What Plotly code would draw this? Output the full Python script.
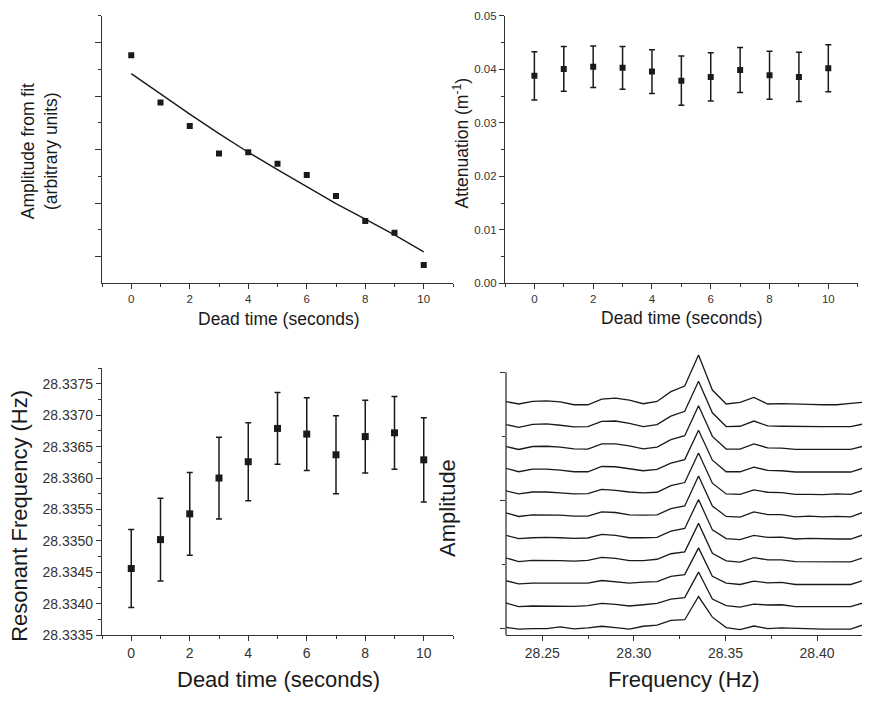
import plotly.graph_objects as go

# ---------------- data ----------------
dead_time = [0, 1, 2, 3, 4, 5, 6, 7, 8, 9, 10]

# top-left: amplitude from fit (arbitrary units) and fitted curve
amplitude_fit_points = [8.53, 6.76, 5.88, 4.85, 4.90, 4.47, 4.05, 3.26, 2.33, 1.89, 0.68]
amplitude_fit_curve = [7.84, 7.07, 6.33, 5.60, 4.90, 4.25, 3.61, 2.98, 2.40, 1.81, 1.17]

# top-right: attenuation (1/m) with error
attenuation = [0.0388, 0.0401, 0.0405, 0.0403, 0.0396, 0.0379, 0.0386, 0.0399, 0.0389, 0.0386, 0.0402]
attenuation_err = [0.0045, 0.0042, 0.0039, 0.0040, 0.0041, 0.0046, 0.0045, 0.0042, 0.0045, 0.0046, 0.0044]

# bottom-left: resonant frequency (Hz) with error
resonant_freq = [28.33456, 28.33502, 28.33543, 28.33600, 28.33626, 28.33679,
                 28.33670, 28.33637, 28.33666, 28.33672, 28.33629]
resonant_freq_err = [0.00062, 0.00066, 0.00066, 0.00065, 0.00062, 0.00057,
                     0.00058, 0.00062, 0.00058, 0.00058, 0.00067]

# bottom-right: stacked spectra (arbitrary amplitude, offset per dead time)
spectrum_freq = [28.22956, 28.23711, 28.24466, 28.25222, 28.25977, 28.26733, 28.27488,
                 28.28243, 28.28999, 28.29754, 28.30510, 28.31265, 28.32020, 28.32776,
                 28.33531, 28.34286, 28.35042, 28.35797, 28.36553, 28.37308, 28.38063,
                 28.38819, 28.39574, 28.40330, 28.41085, 28.41840, 28.42596]

spectra_amplitude = [
    [177.3, 175.3, 177.3, 177.8, 177.0, 174.7, 174.7, 179.1, 179.8, 178.3, 175.5, 177.3, 184.9, 189.3,
     213.5, 186.2, 175.3, 176.5, 180.4, 175.3, 175.5, 175.5, 175.0, 174.7, 174.7, 175.8, 176.8],
    [159.4, 157.1, 159.4, 159.7, 158.7, 157.4, 157.7, 161.7, 162.0, 160.2, 157.7, 159.2, 165.8, 169.6,
     193.1, 168.4, 157.7, 157.9, 162.0, 158.2, 157.9, 157.7, 157.7, 157.7, 157.7, 157.7, 159.9],
    [142.3, 139.8, 142.1, 142.3, 141.6, 140.3, 140.1, 144.1, 144.1, 142.6, 140.3, 141.6, 147.4, 150.5,
     174.0, 150.0, 140.1, 140.1, 144.1, 141.1, 140.8, 139.8, 139.8, 139.8, 139.8, 139.8, 142.6],
    [125.3, 122.4, 124.5, 124.5, 123.7, 122.4, 122.4, 126.5, 126.3, 124.5, 123.2, 124.2, 129.1, 131.9,
     154.8, 131.4, 122.4, 122.4, 126.0, 123.5, 123.2, 122.2, 122.2, 122.2, 122.2, 122.2, 125.5],
    [107.7, 105.1, 106.6, 106.6, 105.9, 105.1, 105.4, 108.7, 107.9, 106.6, 105.9, 106.4, 111.5, 114.0,
     137.0, 113.5, 105.1, 104.8, 108.2, 106.4, 106.1, 104.8, 104.8, 104.6, 105.1, 104.8, 108.2],
    [90.6, 87.5, 88.8, 88.8, 88.5, 87.8, 87.8, 91.1, 90.6, 88.8, 88.5, 88.8, 93.6, 95.7,
     119.1, 95.7, 87.5, 87.0, 91.1, 89.0, 89.0, 87.2, 87.8, 87.2, 87.5, 87.2, 91.1],
    [73.0, 70.2, 70.9, 71.2, 70.9, 70.4, 70.7, 73.5, 72.7, 70.9, 70.9, 71.2, 76.0, 78.1,
     100.8, 77.0, 70.2, 69.4, 72.7, 71.2, 71.4, 69.9, 70.4, 69.9, 69.9, 69.9, 73.5],
    [55.4, 52.3, 53.3, 53.3, 53.1, 52.6, 53.3, 55.6, 54.8, 53.1, 53.1, 54.1, 58.4, 59.9,
     82.1, 58.7, 52.8, 51.8, 55.4, 53.6, 53.6, 52.3, 52.3, 52.0, 52.0, 52.0, 55.6],
    [37.5, 34.9, 35.5, 35.5, 35.5, 35.2, 35.5, 37.5, 36.7, 35.5, 36.2, 36.7, 40.8, 42.1,
     63.0, 40.8, 35.5, 34.4, 37.0, 35.7, 36.0, 34.4, 34.4, 34.4, 34.4, 34.4, 37.8],
    [20.2, 17.1, 17.6, 17.6, 17.6, 17.3, 17.9, 19.6, 18.9, 17.6, 18.6, 19.6, 23.0, 24.2,
     44.1, 23.0, 17.9, 16.8, 19.1, 18.4, 18.6, 17.1, 17.1, 17.1, 17.1, 17.1, 20.4],
    [1.0, -0.5, 0.0, 0.0, 1.3, -0.3, 0.5, 1.8, 0.8, -0.5, 1.8, 2.6, 6.4, 6.9,
     25.0, 8.9, 0.8, -0.8, 2.0, 0.0, 0.5, 0.0, -0.3, -0.5, -0.5, -0.5, 3.3],
]

dead_time_ticks = [0, 2, 4, 6, 8, 10]
attenuation_ticks = [0.00, 0.01, 0.02, 0.03, 0.04, 0.05]
resonant_ticks = [28.3335, 28.3340, 28.3345, 28.3350, 28.3355, 28.3360, 28.3365, 28.3370, 28.3375]
spectrum_ticks = [28.25, 28.30, 28.35, 28.40]

# ---------------- styling ----------------
FONT = "Liberation Sans, Arial, sans-serif"
INK = "#1a1a1a"
AXC = "#333333"
W, H = 870, 704
OFF = 8  # page body margin in the browser


def dom_x(a, b):
    return [(a - OFF) / W, (b - OFF) / W]


def dom_y(top, bottom):
    return [1 - (bottom - OFF) / H, 1 - (top - OFF) / H]


fig = go.Figure()

# top-left
fig.add_trace(go.Scatter(x=dead_time, y=amplitude_fit_curve, mode="lines",
                         line=dict(color=INK, width=1.4), xaxis="x", yaxis="y"))
fig.add_trace(go.Scatter(x=dead_time, y=amplitude_fit_points, mode="markers",
                         marker=dict(symbol="square", size=6, color=INK), xaxis="x", yaxis="y"))

# top-right
fig.add_trace(go.Scatter(x=dead_time, y=attenuation, mode="markers",
                         marker=dict(symbol="square", size=6, color=INK),
                         error_y=dict(type="data", array=attenuation_err, color=INK,
                                      thickness=1.5, width=3),
                         xaxis="x2", yaxis="y2"))

# bottom-left
fig.add_trace(go.Scatter(x=dead_time, y=resonant_freq, mode="markers",
                         marker=dict(symbol="square", size=7, color=INK),
                         error_y=dict(type="data", array=resonant_freq_err, color=INK,
                                      thickness=1.5, width=3),
                         xaxis="x3", yaxis="y3"))

# bottom-right
for spec in spectra_amplitude:
    fig.add_trace(go.Scatter(x=spectrum_freq, y=spec, mode="lines",
                             line=dict(color=INK, width=1.3), xaxis="x4", yaxis="y4"))

tick_font_small = dict(family=FONT, size=11.5, color="#333")
tick_font_big = dict(family=FONT, size=14, color="#333")

common = dict(showgrid=False, zeroline=False, linecolor=AXC, linewidth=1.3,
              ticks="outside", tickcolor=AXC, tickwidth=1.2, ticklabeloverflow="allow")

fig.update_layout(
    width=W, height=H, autosize=False,
    margin=dict(l=0, r=0, t=0, b=0),
    paper_bgcolor="white", plot_bgcolor="white",
    showlegend=False,
    xaxis=dict(domain=dom_x(102, 453), range=[-1, 11], anchor="y", showline=True,
               tickvals=dead_time_ticks, ticklen=5, tickfont=tick_font_small,
               minor=dict(dtick=1, tick0=0, ticks="outside", ticklen=3, tickcolor=AXC), **common),
    yaxis=dict(domain=dom_y(10, 282.7), range=[0, 10], anchor="x", showline=True,
               tickvals=[1, 3, 5, 7, 9], ticklen=6, showticklabels=False,
               minor=dict(tickvals=[2, 4, 6, 8, 10], ticks="outside", ticklen=3, tickcolor=AXC), **common),
    xaxis2=dict(domain=dom_x(505, 857.7), range=[-1, 11], anchor="y2", showline=True,
                tickvals=dead_time_ticks, ticklen=5, tickfont=tick_font_small,
                minor=dict(dtick=1, tick0=0, ticks="outside", ticklen=3, tickcolor=AXC), **common),
    yaxis2=dict(domain=dom_y(10, 282.7), range=[0, 0.05], anchor="x2", showline=True,
                tickvals=attenuation_ticks, tickformat=".2f", ticklen=5, tickfont=tick_font_small,
                minor=dict(dtick=0.005, tick0=0, ticks="outside", ticklen=3, tickcolor=AXC), **common),
    xaxis3=dict(domain=dom_x(102, 453), range=[-1, 11], anchor="y3", showline=True,
                tickvals=dead_time_ticks, ticklen=5, tickfont=tick_font_big,
                minor=dict(dtick=1, tick0=0, ticks="outside", ticklen=3, tickcolor=AXC), **common),
    yaxis3=dict(domain=dom_y(369.3, 641.7), range=[28.3335, 28.33775], anchor="x3", showline=True,
                tickvals=resonant_ticks, tickformat=".4f", ticklen=5, tickfont=tick_font_big,
                minor=dict(dtick=0.00025, tick0=28.3335, ticks="outside", ticklen=3, tickcolor=AXC), **common),
    xaxis4=dict(domain=dom_x(506, 862.7), range=[28.23016, 28.42496], anchor="y4", showline=True,
                tickvals=spectrum_ticks, tickformat=".2f", ticklen=5, tickfont=tick_font_big,
                minor=dict(tickvals=[28.275, 28.325, 28.375, 28.425], ticks="outside", ticklen=3, tickcolor=AXC),
                **common),
    yaxis4=dict(domain=dom_y(354, 641.7), range=[-5.1, 215], anchor="x4", showline=False,
                showgrid=False, zeroline=False, ticks="outside", tickcolor=AXC, tickwidth=1.2,
                tickvals=[0, 100, 200], ticklen=5, showticklabels=False,
                minor=dict(tickvals=[50, 150], ticks="outside", ticklen=3, tickcolor=AXC)),
)

# y-axis line of the spectra panel stops at the top major tick
fig.add_shape(type="line", xref="x4 domain", yref="y4", x0=0, x1=0, y0=-5.1, y1=200,
              line=dict(color=AXC, width=1.3))

title_small = dict(family=FONT, size=17.5, color=INK)
title_big = dict(family=FONT, size=22, color=INK)


def ann(text, x, y, font, angle=0):
    fig.add_annotation(text=text, x=(x - OFF) / W, y=1 - (y - OFF) / H, xref="paper", yref="paper",
                       showarrow=False, font=font, textangle=angle,
                       xanchor="center", yanchor="middle", align="center")


ann("Dead time (seconds)", 278, 319, title_small)
ann("Amplitude from fit<br>(arbitrary units)", 39, 148, title_small, -90)
ann("Dead time (seconds)", 681, 318, title_small)
ann("Attenuation (m<sup>-1</sup>)", 461, 140, title_small, -90)
ann("Dead time (seconds)", 278, 687, title_big)
ann("Resonant Frequency (Hz)", 20, 520, title_big, -90)
ann("Frequency (Hz)", 684, 687, title_big)
ann("Amplitude", 448, 512, title_big, -90)

fig.write_html("out.html")
